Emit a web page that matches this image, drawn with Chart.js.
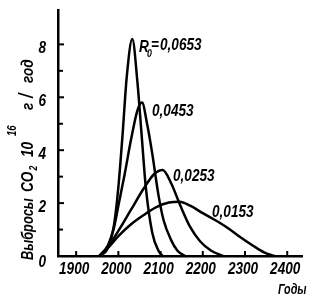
<!DOCTYPE html>
<html>
<head>
<meta charset="utf-8">
<script src="https://cdn.jsdelivr.net/npm/chart.js@4"></script>
<style>
html,body{margin:0;padding:0;background:#fff;}
</style>
</head>
<body>
<canvas id="chart" width="320" height="300"></canvas>
<script>
const FONT = '"Liberation Sans", Arial, sans-serif';

// curves (years / emissions)
const years1 = [1955, 1975, 1990, 2000, 2010, 2020, 2033, 2045, 2055, 2065, 2080, 2095, 2105];
const vals1  = [0, 0.3, 1.2, 2.6, 4.6, 6.8, 8.2, 6.6, 4.6, 2.6, 0.9, 0.2, 0];
const years2 = [1955, 1975, 1990, 2000, 2015, 2030, 2045, 2056, 2068, 2080, 2095, 2107, 2125, 2140, 2158];
const vals2  = [0, 0.4, 1.1, 1.9, 3.1, 4.4, 5.5, 5.8, 5.0, 3.9, 2.3, 1.36, 0.6, 0.2, 0];
const years3 = [1955, 1975, 2000, 2030, 2060, 2085, 2105, 2125, 2147, 2170, 2194, 2220, 2248];
const vals3  = [0, 0.35, 0.95, 1.75, 2.55, 3.1, 3.25, 2.75, 1.9, 1.1, 0.55, 0.2, 0];
const years4 = [1955, 1975, 2000, 2030, 2060, 2090, 2120, 2145, 2170, 2200, 2230, 2260, 2290, 2320, 2345, 2370];
const vals4  = [0, 0.3, 0.75, 1.2, 1.55, 1.85, 2.02, 2.05, 1.9, 1.62, 1.35, 1.05, 0.7, 0.38, 0.14, 0];

const curveLabels = ['0,0653', '0,0453', '0,0253', '0,0153'];
const xTicks = [1900, 2000, 2100, 2200, 2300, 2400];
const yTicks = [0, 2, 4, 6, 8];
const yMinor = [1, 3, 5, 7];

function toPoints(xs, ys){
  return xs.map((x, i) => ({x: x, y: ys[i]}));
}

function makeSet(xs, ys){
  return {
    data: toPoints(xs, ys),
    showLine: true,
    borderColor: '#000',
    borderWidth: 2.5,
    pointRadius: 0,
    cubicInterpolationMode: 'monotone',
    fill: false
  };
}

// narrow bold italic text, like the condensed lettering of the original
function txt(ctx, s, x, y, size, align, sx){
  ctx.save();
  ctx.translate(x, y);
  ctx.scale(sx || 0.8, 1);
  ctx.font = 'italic bold ' + size + 'px ' + FONT;
  ctx.textAlign = align || 'left';
  ctx.textBaseline = 'alphabetic';
  ctx.fillText(s, 0, 0);
  const w = ctx.measureText(s).width * (sx || 0.8);
  ctx.restore();
  return w;
}

const extras = {
  id: 'extras',
  afterDraw(chart){
    const ctx = chart.ctx;
    const xs = chart.scales.x, ys = chart.scales.y;
    const x0 = xs.left, y0 = ys.bottom;
    ctx.save();
    ctx.strokeStyle = '#000';
    ctx.fillStyle = '#000';
    ctx.lineWidth = 2;
    // inward ticks
    yTicks.slice(1).forEach(v => {
      const p = ys.getPixelForValue(v);
      ctx.beginPath(); ctx.moveTo(x0, p); ctx.lineTo(x0 + 6, p); ctx.stroke();
    });
    yMinor.forEach(v => {
      const p = ys.getPixelForValue(v);
      ctx.beginPath(); ctx.moveTo(x0, p); ctx.lineTo(x0 + 5, p); ctx.stroke();
    });
    xTicks.forEach(v => {
      const p = xs.getPixelForValue(v);
      ctx.beginPath(); ctx.moveTo(p, y0); ctx.lineTo(p, y0 - 5); ctx.stroke();
    });

    // tick labels
    xTicks.forEach(v => {
      txt(ctx, String(v), xs.getPixelForValue(v) - 2, y0 + 18, 17, 'center');
    });
    yTicks.forEach(v => {
      const p = ys.getPixelForValue(v);
      txt(ctx, String(v), x0 - 12, p + (v === 0 ? 11 : 9), 17, 'right');
    });

    // curve labels
    txt(ctx, 'R', 139, 52, 17);
    txt(ctx, '0', 147, 57, 11);
    txt(ctx, '=', 151, 50, 17);
    txt(ctx, curveLabels[0], 160, 50, 17);
    txt(ctx, curveLabels[1], 152, 116, 17);
    txt(ctx, curveLabels[2], 173, 181, 17);
    txt(ctx, curveLabels[3], 212, 217, 17);
    txt(ctx, 'Годы', 278, 294, 15, 'left', 0.72);

    // y title, rotated
    ctx.translate(33, 260);
    ctx.rotate(-Math.PI / 2);
    txt(ctx, 'Выбросы', 0, 0, 16);
    const w = txt(ctx, 'CO', 68, 0, 17);
    txt(ctx, '2', 69 + w, 4, 11);
    txt(ctx, '10', 103, 0, 17);
    txt(ctx, '16', 124, -17, 12);
    txt(ctx, 'г', 150, 0, 17);
    txt(ctx, '/', 162, 0, 20);
    txt(ctx, 'год', 177, 0, 17);
    ctx.restore();
  }
};

new Chart(document.getElementById('chart'), {
  type: 'scatter',
  data: {
    datasets: [
      makeSet(years1, vals1),
      makeSet(years2, vals2),
      makeSet(years3, vals3),
      makeSet(years4, vals4)
    ]
  },
  options: {
    responsive: false,
    animation: false,
    layout: {padding: {left: 0, right: 18, top: 10, bottom: 0}},
    plugins: {legend: {display: false}, tooltip: {enabled: false}},
    scales: {
      x: {
        type: 'linear',
        min: 1857,
        max: 2435,
        afterBuildTicks: s => { s.ticks = xTicks.map(v => ({value: v})); },
        afterFit: s => { s.height = 44; },
        grid: {display: false, drawTicks: false},
        border: {display: true, color: '#000', width: 2.5},
        ticks: {display: false}
      },
      y: {
        min: 0,
        max: 9.3,
        afterBuildTicks: s => { s.ticks = yTicks.map(v => ({value: v})); },
        afterFit: s => { s.width = 58; },
        grid: {display: false, drawTicks: false},
        border: {display: true, color: '#000', width: 2.5},
        ticks: {display: false}
      }
    }
  },
  plugins: [extras]
});
</script>
</body>
</html>
